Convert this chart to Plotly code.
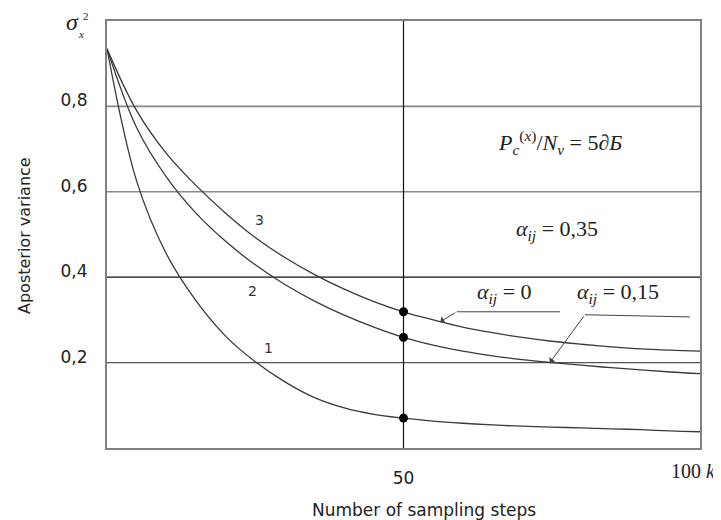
import numpy as np
import plotly.graph_objects as go

# ---- data ----
k_steps = [0, 5, 10, 15, 20, 25, 30, 35, 40, 45, 50, 55, 60, 65, 70, 75, 80, 85, 90, 95, 100]
curve1 = [0.935, 0.625, 0.455, 0.345, 0.262, 0.202, 0.155, 0.118, 0.094, 0.079, 0.070,
          0.063, 0.058, 0.054, 0.051, 0.049, 0.047, 0.045, 0.043, 0.040, 0.038]
curve2 = [0.935, 0.750, 0.635, 0.550, 0.484, 0.429, 0.383, 0.344, 0.311, 0.283, 0.259,
          0.241, 0.227, 0.216, 0.207, 0.200, 0.194, 0.188, 0.183, 0.178, 0.174]
curve3 = [0.935, 0.790, 0.690, 0.615, 0.550, 0.493, 0.446, 0.406, 0.372, 0.343, 0.319,
          0.300, 0.283, 0.270, 0.259, 0.250, 0.243, 0.237, 0.232, 0.229, 0.227]
curve_names = ["1", "2", "3"]
y_tick_vals = [0.2, 0.4, 0.6, 0.8]
y_tick_text = ["0,2", "0,4", "0,6", "0,8"]
x_tick_vals = [50]
x_tick_text = ["50"]
marker_k = 50

SANS = "DejaVu Sans"
SERIF = "Liberation Serif"
INK = "#333333"
TXT = "#222222"

# plot area on the page (pixels) used to place paper-referenced texts
PL, PR, PT, PB = 107, 700, 21, 448


def px(x):
    return (x - PL) / (PR - PL)


def py(y):
    return (PB - y) / (PB - PT)


fig = go.Figure()
series = [curve1, curve2, curve3]
for name, ys in zip(curve_names, series):
    fig.add_trace(go.Scatter(x=k_steps, y=ys, mode="lines", name=name,
                             line=dict(color="#3a3a3a", width=1.3, shape="spline", smoothing=1.0),
                             showlegend=False, hoverinfo="skip"))

# dots at k = 50
idx = k_steps.index(marker_k)
fig.add_trace(go.Scatter(x=[marker_k] * 3, y=[s[idx] for s in series], mode="markers",
                         marker=dict(color="black", size=9), showlegend=False, hoverinfo="skip"))

# horizontal grid lines & vertical line at 50
grid_colors = {0.2: "#555555", 0.4: "#111111", 0.6: "#888888", 0.8: "#888888"}
grid_widths = {0.2: 1.2, 0.4: 1.2, 0.6: 1.6, 0.8: 1.6}
for v in y_tick_vals:
    fig.add_shape(type="line", xref="paper", x0=0, x1=1, yref="y", y0=v, y1=v,
                  line=dict(color=grid_colors[v], width=grid_widths[v]), layer="below")
fig.add_shape(type="line", xref="x", x0=marker_k, x1=marker_k, yref="paper", y0=0, y1=1,
              line=dict(color="#111111", width=1.2), layer="below")

# curve number labels
lab = dict(family=SANS, size=14, color=INK)
fig.add_annotation(x=25.8, y=0.534, text="3", showarrow=False, font=lab)
fig.add_annotation(x=24.6, y=0.368, text="2", showarrow=False, font=lab)
fig.add_annotation(x=27.3, y=0.234, text="1", showarrow=False, font=lab)

# formula annotations
serif = dict(family=SERIF, size=22, color=TXT)
fig.add_annotation(x=76.4, y=0.715, showarrow=False, font=serif,
                   text="<i>P</i><sub><i>c</i></sub><sup>(<i>x</i>)</sup>/<i>N</i><sub><i>ν</i></sub> = 5<i>∂Б</i>")
fig.add_annotation(x=75.9, y=0.511, showarrow=False, font=serif,
                   text="<i>α</i><sub><i>ij</i></sub> = 0,35")
fig.add_annotation(x=67.1, y=0.363, showarrow=False, font=serif,
                   text="<i>α</i><sub><i>ij</i></sub> = 0")
fig.add_annotation(x=86.2, y=0.363, showarrow=False, font=serif,
                   text="<i>α</i><sub><i>ij</i></sub> = 0,15")

# leader lines
fig.add_shape(type="line", x0=59.0, x1=76.4, y0=0.319, y1=0.319, line=dict(color="#444444", width=1))
tip_x0 = 56.2
fig.add_annotation(x=tip_x0, y=float(np.interp(tip_x0, k_steps, curve3)), ax=59.0, ay=0.319,
                   axref="x", ayref="y", text="", showarrow=True, arrowhead=1, arrowsize=1.3,
                   arrowwidth=1, arrowcolor="#444444")
fig.add_shape(type="line", x0=80.6, x1=98.3, y0=0.312, y1=0.307, line=dict(color="#444444", width=1))
tip_x1 = 74.7
fig.add_annotation(x=tip_x1, y=float(np.interp(tip_x1, k_steps, curve2)), ax=80.6, ay=0.312,
                   axref="x", ayref="y", text="", showarrow=True, arrowhead=1, arrowsize=1.3,
                   arrowwidth=1, arrowcolor="#444444")

# axis symbol sigma^2_x
fig.add_annotation(xref="paper", yref="paper", x=px(72), y=py(22), xanchor="center", yanchor="middle",
                   text="<i>σ</i>", showarrow=False, font=dict(family=SERIF, size=24, color=TXT))
fig.add_annotation(xref="paper", yref="paper", x=px(86), y=py(16), xanchor="center", yanchor="middle",
                   text="2", showarrow=False, font=dict(family=SERIF, size=11, color=TXT))
fig.add_annotation(xref="paper", yref="paper", x=px(81), y=py(34), xanchor="center", yanchor="middle",
                   text="<i>x</i>", showarrow=False, font=dict(family=SERIF, size=11, color=TXT))

# "100 k"
fig.add_annotation(xref="paper", yref="paper", x=px(669), y=py(471), xanchor="left", yanchor="middle",
                   text="100 <i>k</i>", showarrow=False, font=dict(family=SERIF, size=20, color=TXT))

# axis titles
fig.add_annotation(xref="paper", yref="paper", x=px(424), y=py(510), xanchor="center", yanchor="middle",
                   text="Number of sampling steps", showarrow=False,
                   font=dict(family=SANS, size=17, color=TXT))
fig.add_annotation(xref="paper", yref="paper", x=px(24), y=py(236), xanchor="center", yanchor="middle",
                   text="Aposterior variance", textangle=-90, showarrow=False,
                   font=dict(family=SANS, size=16, color=TXT))

fig.update_xaxes(range=[0, 100], showgrid=False, zeroline=False, tickvals=x_tick_vals,
                 ticktext=x_tick_text, ticks="", showline=True, mirror=True, linecolor="#808080",
                 linewidth=2, ticklabelstandoff=14, tickfont=dict(family=SANS, size=17, color=TXT))
fig.update_yaxes(range=[0, 1], showgrid=False, zeroline=False, tickvals=y_tick_vals,
                 ticktext=y_tick_text, ticks="", showline=True, mirror=True, linecolor="#808080",
                 linewidth=2, ticklabelstandoff=14, ticklabelshift=-6,
                 tickfont=dict(family=SANS, size=17, color=TXT))

# the page body adds an 8 px margin, so the figure is 8 px smaller and the margins shift by 8
fig.update_layout(width=713, height=512, margin=dict(l=PL - 8, r=721 - PR, t=PT - 8, b=520 - PB),
                  plot_bgcolor="white", paper_bgcolor="white")

fig.write_html("out.html")
